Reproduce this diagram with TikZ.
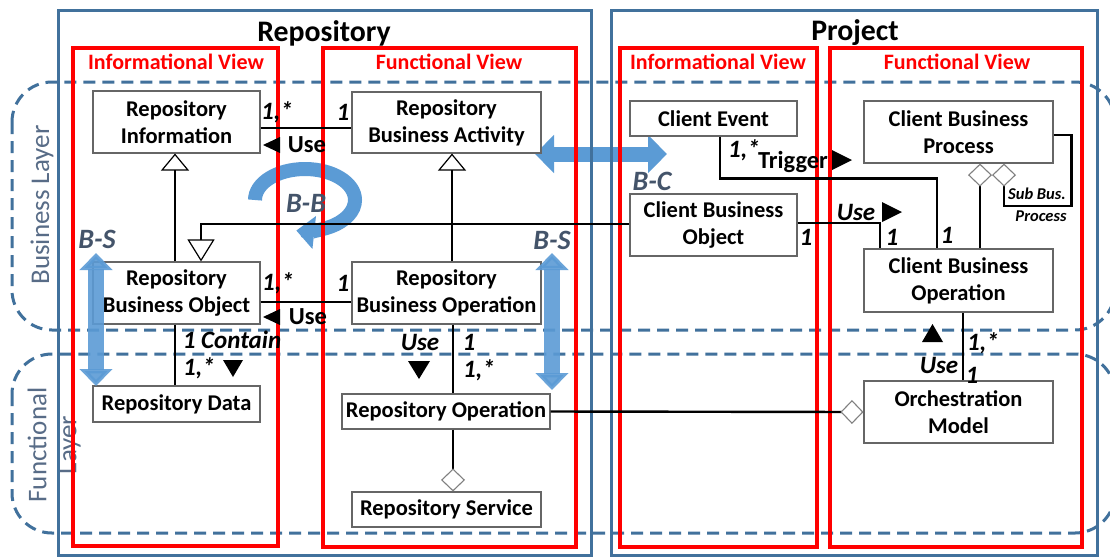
\documentclass[tikz,border=0pt]{standalone}
\usepackage{fontspec}
\setmainfont{Carlito}
\usetikzlibrary{arrows.meta,calc}
\definecolor{frameblue}{RGB}{65,113,156}
\definecolor{arrowblue}{RGB}{91,155,213}
\definecolor{slate}{RGB}{68,84,106}
\definecolor{layertxt}{RGB}{88,108,135}
\definecolor{redv}{RGB}{255,0,0}
\newcommand\ndfont{\fontsize{22.5}{27}\selectfont\bfseries}
\newcommand\multfont{\fontsize{25}{28}\selectfont\bfseries\itshape}
\newcommand\plainlblfont{\fontsize{24.5}{28}\selectfont\bfseries}
\begin{document}
\begin{tikzpicture}[x=1pt,y=-1pt,
  box/.style={draw=black!60, line width=1.1pt, fill=white, inner sep=0pt, align=center, font=\ndfont},
  conn/.style={line width=2.4pt, black},
  mult/.style={font=\multfont, inner sep=0pt},
  plain/.style={font=\plainlblfont, inner sep=0pt},
  small/.style={font=\fontsize{16.5}{19}\selectfont\bfseries\itshape, inner sep=0pt},
  bluelbl/.style={font=\fontsize{28}{32}\selectfont\bfseries\itshape, text=slate, inner sep=0pt},
  frame/.style={draw=frameblue, line width=3pt},
  redframe/.style={draw=redv, line width=3.5pt},
  redlbl/.style={font=\fontsize{22}{26}\selectfont\bfseries, text=redv, inner sep=0pt},
  title/.style={font=\fontsize{29.8}{34}\selectfont\bfseries, inner sep=0pt},
  layer/.style={draw=frameblue, line width=3pt, dash pattern=on 12pt off 7pt, rounded corners=40pt},
  layertext/.style={font=\fontsize{27}{30}\selectfont, text=layertxt, rotate=90, inner sep=0pt},
  fat/.style={draw=arrowblue, line width=15pt},
  gen/.style={-{Triangle[open, width=28pt, length=17pt, line width=1.2pt]}},
  agg/.style={-{Diamond[width=24pt, length=23pt, color=black!50, fill=white, line width=1.1pt]}},
  genrev/.style={-{Triangle[open, width=27pt, length=22pt, line width=1.2pt]}}
]
\useasboundingbox (0,0) rectangle (1110,558);
\clip (0,0) rectangle (1110,558);
\fill[white] (0,0) rectangle (1110,558);

% blue arrows behind the frames
\coordinate (bc1) at (535,154);
\coordinate (bc2) at (667,154);
\draw[fat, {Triangle[width=37pt,length=19pt]}-{Triangle[width=37pt,length=19pt]}] (bc1) -- (bc2);
\draw[draw=arrowblue, line width=14pt, -{Triangle[width=32pt,length=18pt]}]
  (255,200) arc[start angle=180, end angle=460, x radius=50, y radius=31];

% layers
\draw[layer] (12,82) rectangle (1115,330);
\draw[layer] (12,354) rectangle (1115,533);
\node[layertext] (bl) at (42,205) {Business Layer};
\node[layertext] (fl1) at (37,445) {Functional};
\node[layertext] (fl2) at (70,445) {Layer};

% frames
\draw[frame] (58,10) rectangle (591,555);
\draw[frame] (611,10) rectangle (1097,555);
\draw[redframe] (73,48) rectangle (278,546);
\draw[redframe] (323,48) rectangle (576,547);
\draw[redframe] (620,48) rectangle (817,547);
\draw[redframe] (830,48) rectangle (1082,547);
\node[title] (t1) at (324,33) {Repository};
\node[title] (t2) at (855,33) {Project};
\node[redlbl] (r1) at (176,62) {Informational View};
\node[redlbl] (r2) at (449,62) {Functional View};
\node[redlbl] (r3) at (718,62) {Informational View};
\node[redlbl] (r4) at (957,62) {Functional View};

% nodes
\node[box, minimum width=167pt, minimum height=62pt] (RI) at (176.5,122) {Repository\\Information};
\node[box, minimum width=189pt, minimum height=61pt] (RBA) at (446.5,122.5) {Repository\\Business Activity};
\node[box, minimum width=167pt, minimum height=62pt] (RBO) at (176.5,293) {Repository\\Business Object};
\node[box, minimum width=189pt, minimum height=62pt] (RBOp) at (446.5,293) {Repository\\Business Operation};
\node[box, minimum width=167pt, minimum height=36pt] (RD) at (176.5,404) {Repository Data};
\node[box, minimum width=208pt, minimum height=35pt] (ROp) at (446,411.5) {Repository Operation};
\node[box, minimum width=189pt, minimum height=35pt] (RS) at (446.5,509.5) {Repository Service};
\node[box, minimum width=167pt, minimum height=35pt] (CE) at (713.5,118.5) {Client Event};
\node[box, minimum width=167pt, minimum height=62pt] (CBO) at (713.5,225) {Client Business\\Object};
\node[box, minimum width=189pt, minimum height=62pt] (CBP) at (958.5,132) {Client Business\\Process};
\node[box, minimum width=189pt, minimum height=63pt] (CBOp) at (958.5,280.5) {Client Business\\Operation};
\node[box, minimum width=189pt, minimum height=62pt] (OM) at (958.5,412) {Orchestration\\Model};

% connectors
\draw[conn] ([yshift=-6pt]RI.east) -- ([yshift=-5.5pt]RBA.west);
\draw[conn] ([yshift=-9pt]RBO.east) -- ([yshift=-9pt]RBOp.west);
\draw[conn, gen] ([xshift=-1.5pt]RBO.north) -- ([xshift=-1.5pt]RI.south);
\draw[conn, gen] ([xshift=5.5pt]RBOp.north) -- ([xshift=5.5pt]RBA.south);
\draw[conn, genrev] ([yshift=1pt]CBO.west) -| ([xshift=24.5pt]RBO.north);
\draw[conn] ([xshift=-1.5pt]RBO.south) -- ([xshift=-1.5pt]RD.north);
\draw[conn] ([xshift=6.5pt]RBOp.south) -- ([xshift=7pt]ROp.north);
\draw[conn, agg] ([xshift=7pt]ROp.south) -- ([xshift=6.5pt]RS.north);
\draw[conn, agg] (ROp.east) -- (OM.west);
\draw[conn] ([xshift=4.5pt]OM.north) -- ([xshift=4.5pt]CBOp.south);
\draw[conn] ([xshift=6.5pt]CE.south) -- ++(0,42) -| ([xshift=-21.5pt]CBOp.north);
\draw[conn] ([yshift=2pt]CBO.east) -| ([xshift=-78.5pt]CBOp.north);
\draw[conn, agg] ([xshift=21.5pt]CBOp.north) -- ([xshift=21.5pt]CBP.south);
\draw[conn, agg] ([yshift=-3pt]CBP.east) -- ++(18,0) -- ++(0,71) -| ([xshift=45.5pt]CBP.south);

% direction markers
\fill (263,145) -- (280,137) -- (280,153) -- cycle;
\fill (263,317) -- (280,309) -- (280,325) -- cycle;
\fill (223,360) -- (243,360) -- (233,377) -- cycle;
\fill (408,361) -- (430,361) -- (419,379) -- cycle;
\fill (832,150) -- (832,170) -- (852,160) -- cycle;
\fill (882,202) -- (882,222) -- (902,212) -- cycle;
\fill (922,342) -- (943,342) -- (932.5,324) -- cycle;

% labels
\node[mult] (m1) at (277,112) {1,*};
\node[mult] (m2) at (343,112) {1};
\node[plain] (u1) at (307,145) {Use};
\node[mult] (m3) at (278,283) {1,*};
\node[mult] (m4) at (343,283) {1};
\node[plain] (u2) at (308,317) {Use};
\node[mult] (m5) at (232,340) {1 Contain};
\node[mult] (m6) at (199,368) {1,*};
\node[mult] (u3) at (420,342) {Use};
\node[mult] (m7) at (469,342) {1};
\node[mult] (m8) at (479,370) {1,*};
\node[mult] (m9) at (744,150) {1,*};
\node[plain] (tr) at (793,162) {Trigger};
\node[mult] (m10) at (947,235) {1};
\node[mult] (u4) at (856,212) {Use};
\node[mult] (m11) at (806,237) {1};
\node[mult] (m12) at (892,237) {1};
\node[mult] (u5) at (939,365) {Use};
\node[mult] (m13) at (983,343) {1,*};
\node[mult] (m14) at (972,375) {1};
\node[small] (sb1) at (1037,194) {Sub Bus.};
\node[small] (sb2) at (1041,216) {Process};

% B-S arrows
\coordinate (bs1a) at (96,253);
\coordinate (bs1b) at (96,386);
\coordinate (bs2a) at (552,253);
\coordinate (bs2b) at (552,390);
\draw[draw=arrowblue, opacity=0.9, line width=16pt, {Triangle[width=32pt,length=17pt]}-{Triangle[width=32pt,length=17pt]}] (bs1a) -- (bs1b);
\draw[draw=arrowblue, opacity=0.9, line width=16pt, {Triangle[width=32pt,length=17pt]}-{Triangle[width=32pt,length=17pt]}] (bs2a) -- (bs2b);

\node[bluelbl] (lbs1) at (97,239) {B-S};
\node[bluelbl] (lbs2) at (552,240) {B-S};
\node[bluelbl] (lbc) at (652,181) {B-C};
\node[bluelbl] (lbb) at (306,203) {B-B};
\end{tikzpicture}
\end{document}
